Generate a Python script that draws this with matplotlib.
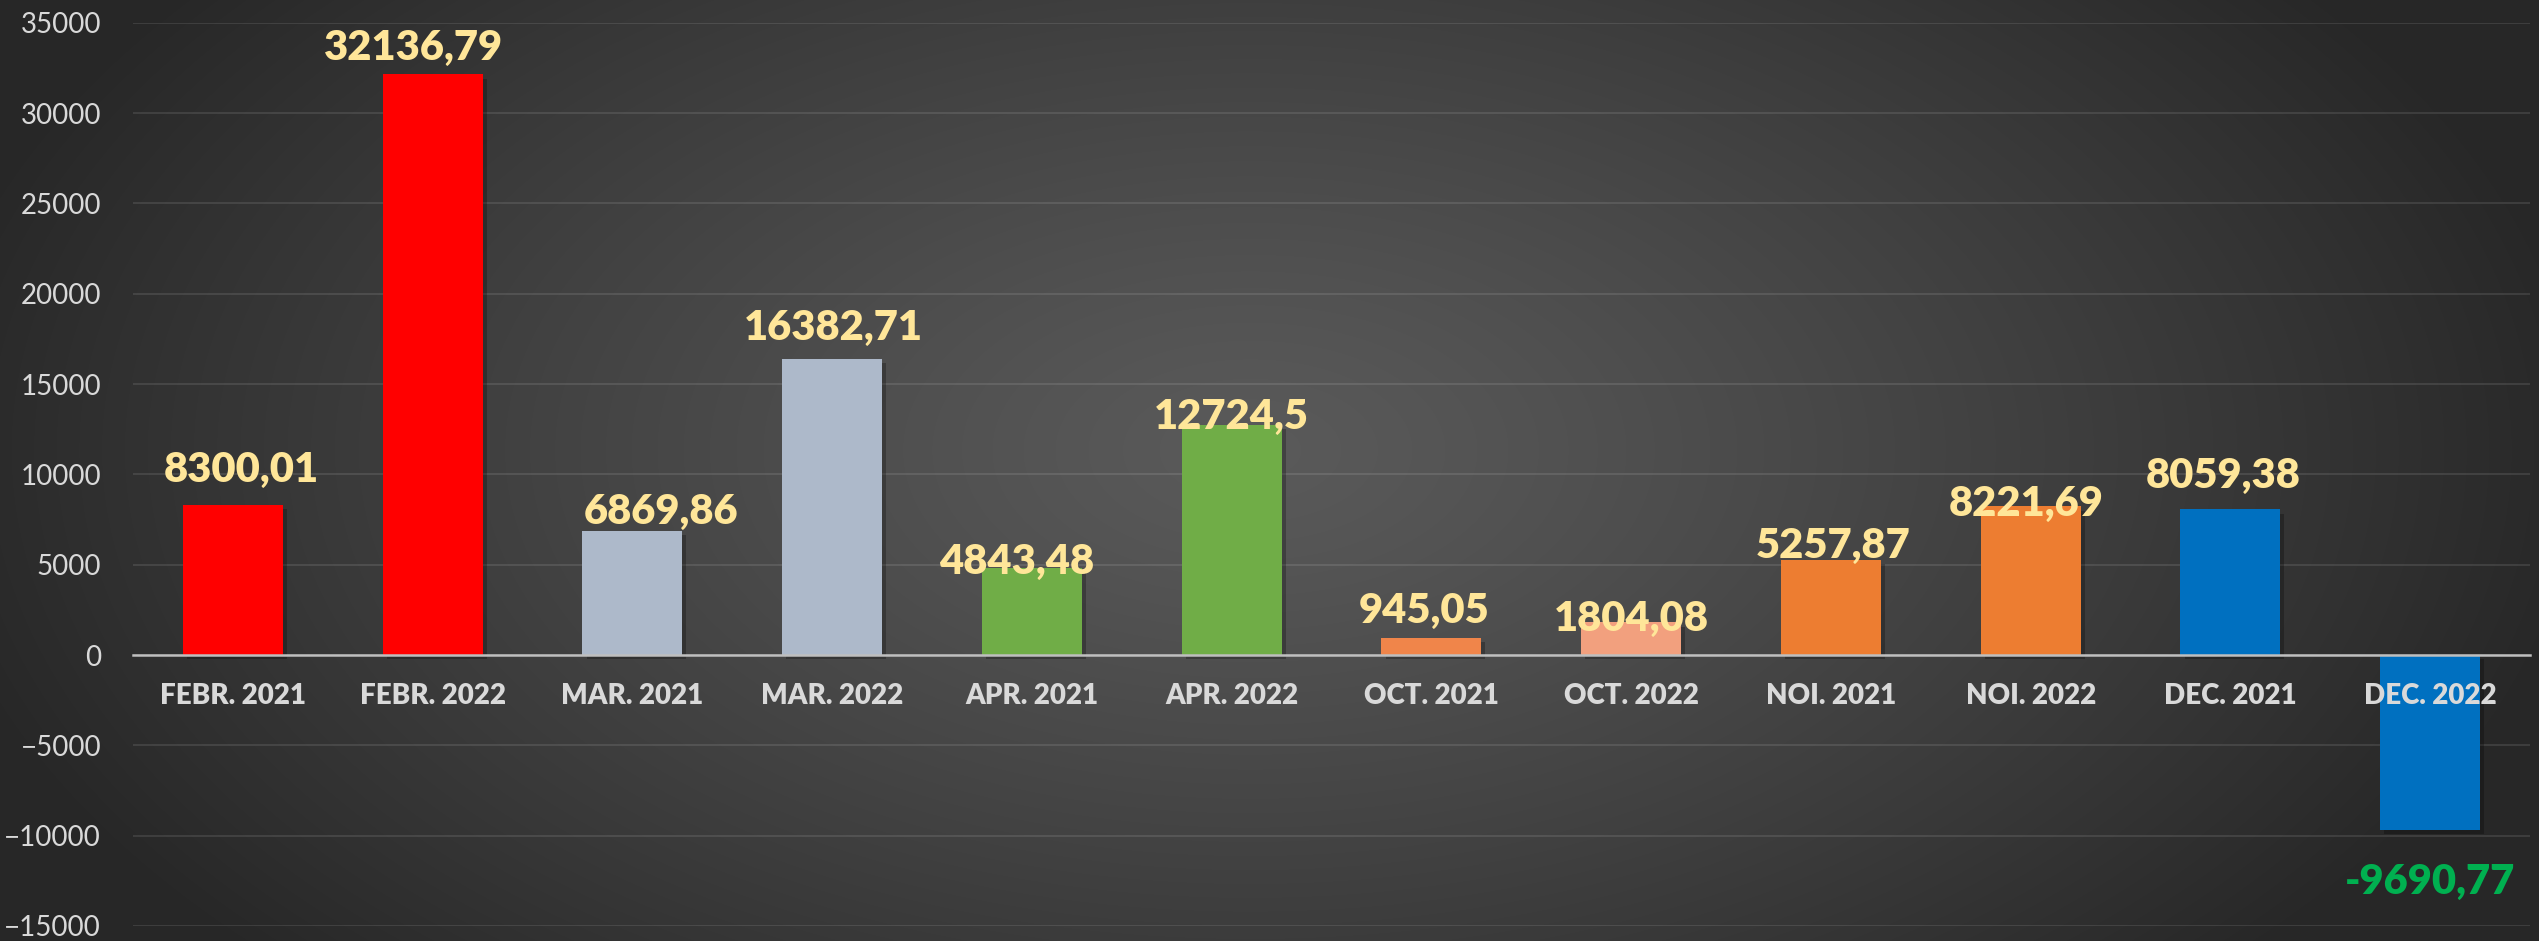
import numpy as np
import matplotlib
matplotlib.use("Agg")
import matplotlib.pyplot as plt
import matplotlib.patheffects as pe

# === Date ===
luni = ["FEBR. 2021", "FEBR. 2022", "MAR. 2021", "MAR. 2022", "APR. 2021", "APR. 2022",
        "OCT. 2021", "OCT. 2022", "NOI. 2021", "NOI. 2022", "DEC. 2021", "DEC. 2022"]
valori = [8300.01, 32136.79, 6869.86, 16382.71, 4843.48, 12724.5,
          945.05, 1804.08, 5257.87, 8221.69, 8059.38, -9690.77]
culori = ["#FF0000", "#FF0000", "#ADB9CA", "#ADB9CA", "#70AD47", "#70AD47",
          "#F0854A", "#F2A07E", "#ED7D31", "#ED7D31", "#0070C0", "#0070C0"]

# deplasari etichete (pixeli)
eticheta_dx = [8, -19, 29, 1, -15, 0, -7, 0, 2, -4, -7, 0]
eticheta_dy = [35, 26, 19, 31, 6, 8, 27, 3, 14, 3, 33, -52]

plt.rcParams["font.family"] = ["Lato", "DejaVu Sans"]

W, H = 2539, 941
fig = plt.figure(figsize=(W / 100, H / 100), dpi=100)

# === Fundal gradient radial ===
bg = fig.add_axes([0, 0, 1, 1], zorder=-10)
X, Y = np.meshgrid(np.arange(W), np.arange(H))
r = np.sqrt(((X - 1250) / 1350) ** 2 + ((Y - 450) / 760) ** 2)
r = np.clip(r, 0, 1) ** 1.2
g = (0x5A - (0x5A - 0x27) * r) / 255
bg.imshow(np.dstack([g, g, g]), aspect="auto", extent=[0, W, H, 0])
bg.axis("off")

# === Grafic ===
ax = fig.add_axes([133 / W, 1 - 926 / H, (2530 - 133) / W, (926 - 22.7) / H])
ax.set_facecolor("none")
x = np.arange(len(luni))
bars = ax.bar(x, valori, width=0.5, color=culori, zorder=1)
for b in bars:
    b.set_path_effects([pe.SimplePatchShadow(offset=(3, -3), shadow_rgbFace="black", alpha=0.25),
                        pe.Normal()])

ax.set_xlim(-0.5, len(luni) - 0.5)
ax.set_ylim(-15000, 35000)
yt = np.arange(-15000, 35001, 5000)
ax.set_yticks(yt)
for t in yt:
    ax.axhline(t, color="white", alpha=0.12, linewidth=1.2, zorder=0.5)

for s in ["top", "right", "left"]:
    ax.spines[s].set_visible(False)
ax.spines["bottom"].set_position(("data", 0))
ax.spines["bottom"].set_color("#BFBFBF")
ax.spines["bottom"].set_linewidth(1.8)

ax.set_xticks(x)
ax.set_xticklabels(luni, fontsize=20, fontweight="heavy", color="#D9D9D9")
ax.tick_params(axis="x", length=0, pad=20)
ax.tick_params(axis="y", length=0, pad=23, labelsize=20, labelcolor="#D9D9D9")

for i, v in enumerate(valori):
    txt = str(v).replace(".", ",")
    ax.annotate(txt, xy=(x[i], v), xytext=(eticheta_dx[i], eticheta_dy[i]),
                textcoords="offset pixels", ha="center", va="center",
                fontsize=30, fontweight="heavy",
                color="#FFE699" if v >= 0 else "#00B050", zorder=5)

fig.savefig("out.png", dpi=100)
